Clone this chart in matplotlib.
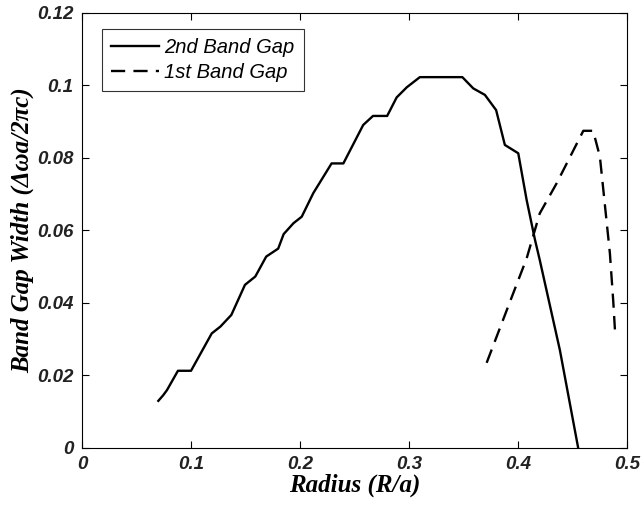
import matplotlib
matplotlib.use("Agg")
import matplotlib.pyplot as plt

# 2nd band gap (solid)
r_second = [0.070, 0.0746, 0.078, 0.088, 0.100, 0.119, 0.127, 0.137, 0.1495, 0.159,
            0.169, 0.180, 0.185, 0.194, 0.2016, 0.2122, 0.229, 0.2398, 0.258, 0.267,
            0.280, 0.2887, 0.298, 0.310, 0.349, 0.359, 0.3697, 0.380, 0.388, 0.4003,
            0.408, 0.4156, 0.420, 0.4385, 0.4553]
gap_second = [0.013, 0.0146, 0.016, 0.0213, 0.0213, 0.0316, 0.0335, 0.0367, 0.045, 0.0473,
              0.0528, 0.055, 0.059, 0.062, 0.0638, 0.0703, 0.0785, 0.0785, 0.0891, 0.0916,
              0.0916, 0.0967, 0.0995, 0.1023, 0.1023, 0.0992, 0.0974, 0.0932, 0.0836, 0.0813,
              0.0684, 0.0575, 0.0519, 0.027, 0.0]

# 1st band gap (dashed)
r_first = [0.3713, 0.3957, 0.408, 0.420, 0.4355, 0.460, 0.469, 0.4752, 0.4844, 0.4875, 0.489]
gap_first = [0.0235, 0.0427, 0.0523, 0.0647, 0.073, 0.0875, 0.0875, 0.0804, 0.0537, 0.0404, 0.0327]

x_ticks = [0, 0.1, 0.2, 0.3, 0.4, 0.5]
x_labels = ["0", "0.1", "0.2", "0.3", "0.4", "0.5"]
y_ticks = [0, 0.02, 0.04, 0.06, 0.08, 0.1, 0.12]
y_labels = ["0", "0.02", "0.04", "0.06", "0.08", "0.1", "0.12"]

fig = plt.figure(figsize=(6.41, 5.07), dpi=100)
ax = fig.add_axes([0.128, 0.1164, 0.850, 0.858])

ax.plot(r_second, gap_second, color="black", linewidth=1.7, linestyle="-", label="2nd Band Gap")
ax.plot(r_first, gap_first, color="black", linewidth=1.7, linestyle=(0, (6, 3.5)), label="1st Band Gap")

ax.set_xlim(0, 0.5)
ax.set_ylim(0, 0.12)
ax.set_xticks(x_ticks)
ax.set_xticklabels(x_labels)
ax.set_yticks(y_ticks)
ax.set_yticklabels(y_labels)
ax.tick_params(direction="in", top=True, right=True, length=5, width=0.8, pad=6)
for lab in ax.get_xticklabels() + ax.get_yticklabels():
    lab.set_fontfamily("Liberation Sans")
    lab.set_fontstyle("italic")
    lab.set_fontweight("bold")
    lab.set_fontsize(13.5)
    lab.set_color("#222222")
for sp in ax.spines.values():
    sp.set_linewidth(0.8)

ax.set_xlabel("Radius (R/a)", fontfamily="Liberation Serif", fontstyle="italic",
              fontweight="bold", fontsize=18, labelpad=0)
ax.set_ylabel("Band Gap Width (\u0394\u03c9a/2\u03c0c)", fontfamily="Liberation Serif",
              fontstyle="italic", fontweight="bold", fontsize=18, labelpad=2)

leg = ax.legend(loc="upper left", bbox_to_anchor=(0.0367, 0.963), borderaxespad=0,
                frameon=True, fancybox=False, edgecolor="black", handlelength=2.4,
                handletextpad=0.25, borderpad=0.45, labelspacing=0.3,
                prop={"family": "Liberation Sans", "style": "italic", "size": 14.5})
leg.get_frame().set_linewidth(0.8)

fig.savefig("out.png", dpi=100)
